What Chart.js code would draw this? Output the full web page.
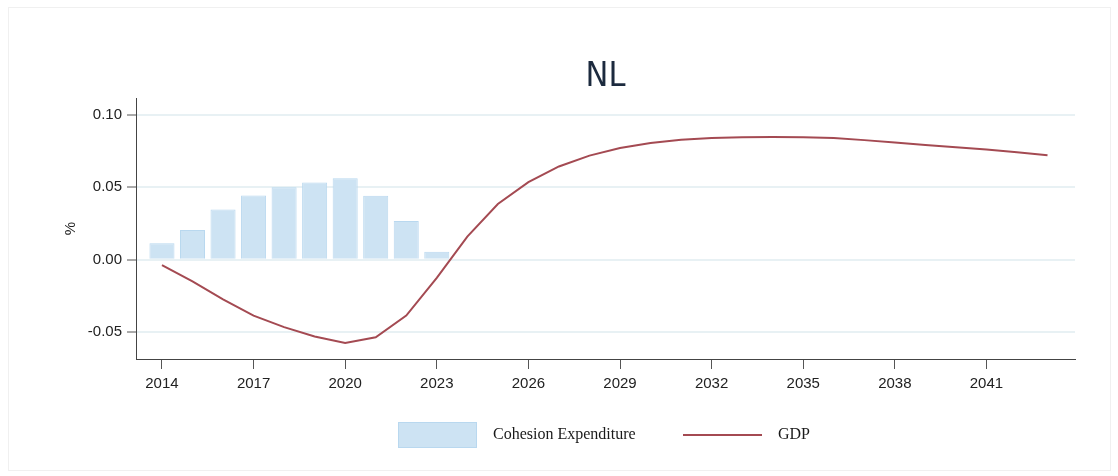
<!DOCTYPE html>
<html>
  <head>
    <title>NL</title>
    <script src="https://cdn.jsdelivr.net/npm/chart.js"></script>
    <style>
      body {
        margin: 0;
        background-color: #ffffff;
        font-family: "Liberation Sans", Arial, sans-serif;
      }
      #wrap {
        position: relative;
        width: 1118px;
        height: 476px;
      }
      #frame {
        position: absolute;
        left: 8px;
        top: 7px;
        width: 1101px;
        height: 462px;
        border: 1px solid #f0f0f0;
      }
      #chartBox {
        position: absolute;
        left: 0;
        top: 0;
        width: 1118px;
        height: 476px;
      }
      .legend-item {
        position: absolute;
        font-family: "Liberation Serif", "Times New Roman", serif;
        font-size: 16px;
        color: #1a1a1a;
        line-height: 20px;
      }
      .swatch-bar {
        position: absolute;
        left: 398px;
        top: 422px;
        width: 77px;
        height: 24px;
        background-color: #cde3f3;
        border: 1px solid #b9d8ef;
      }
      .swatch-line {
        position: absolute;
        left: 683px;
        top: 434px;
        width: 79px;
        height: 2px;
        background-color: #a44a52;
      }
    </style>
  </head>
  <body>
    <div id="wrap">
      <div id="frame"></div>
      <div id="chartBox"><canvas id="nlChart" width="1118" height="476"></canvas></div>
      <div class="swatch-bar"></div>
      <div class="legend-item" style="left: 493px; top: 424px">Cohesion Expenditure</div>
      <div class="swatch-line"></div>
      <div class="legend-item" style="left: 778px; top: 424px">GDP</div>
    </div>

    <script>
      const years = [
        2014, 2015, 2016, 2017, 2018, 2019, 2020, 2021, 2022, 2023,
        2024, 2025, 2026, 2027, 2028, 2029, 2030, 2031, 2032, 2033,
        2034, 2035, 2036, 2037, 2038, 2039, 2040, 2041, 2042, 2043,
      ];
      const cohesionYears = [2014, 2015, 2016, 2017, 2018, 2019, 2020, 2021, 2022, 2023];
      const cohesion = [0.0114, 0.0206, 0.0347, 0.0443, 0.05, 0.0534, 0.0562, 0.0441, 0.0267, 0.0055];
      const gdp = [
        -0.0037, -0.015, -0.0274, -0.0386, -0.0466, -0.053, -0.0575, -0.0536, -0.0386, -0.0125,
        0.016, 0.0385, 0.0536, 0.0644, 0.0719, 0.0772, 0.0806, 0.0828, 0.084, 0.0846,
        0.0848, 0.0846, 0.084, 0.0826, 0.081, 0.0793, 0.0777, 0.0761, 0.0743, 0.0722,
      ];
      const xTicks = [2014, 2017, 2020, 2023, 2026, 2029, 2032, 2035, 2038, 2041];
      const yTicks = [-0.05, 0, 0.05, 0.1];

      const tickFont = { family: "'Liberation Sans', Arial, sans-serif", size: 15 };

      const ctx = document.getElementById("nlChart").getContext("2d");
      new Chart(ctx, {
        type: "bar",
        data: {
          datasets: [
            {
              type: "line",
              label: "GDP",
              data: years.map((y, i) => ({ x: y, y: gdp[i] })),
              borderColor: "#a44a52",
              borderWidth: 2,
              pointRadius: 0,
              tension: 0,
              fill: false,
            },
            {
              type: "bar",
              label: "Cohesion Expenditure",
              data: cohesionYears.map((y, i) => ({ x: y, y: cohesion[i] })),
              backgroundColor: "#cde3f3",
              borderColor: "#b9d8ef",
              borderWidth: 1,
              categoryPercentage: 1,
              barPercentage: 0.82,
            },
          ],
        },
        options: {
          responsive: false,
          animation: false,
          layout: { padding: { left: 62, right: 43, top: 60, bottom: 87 } },
          plugins: {
            legend: { display: false },
            tooltip: { enabled: false },
            title: {
              display: true,
              text: "NL",
              fullSize: false,
              color: "#1c2a3e",
              font: { family: "'Liberation Sans Narrow', 'DejaVu Sans Condensed', sans-serif", size: 34, weight: "normal", lineHeight: 1 },
              padding: { top: 0, bottom: 4 },
            },
          },
          scales: {
            x: {
              type: "linear",
              min: 2013.15,
              max: 2043.9,
              offset: false,
              afterBuildTicks: (scale) => {
                scale.ticks = xTicks.map((v) => ({ value: v }));
              },
              afterFit: (scale) => {
                scale.height = 30;
              },
              ticks: {
                color: "#222",
                font: tickFont,
                padding: 6,
                maxRotation: 0,
                autoSkip: false,
                callback: (v) => String(v),
              },
              grid: {
                offset: false,
                drawOnChartArea: false,
                tickLength: 10,
                tickColor: "#555",
              },
              border: { color: "#444", width: 1 },
            },
            y: {
              min: -0.0686,
              max: 0.1117,
              afterBuildTicks: (scale) => {
                scale.ticks = yTicks.map((v) => ({ value: v }));
              },
              afterFit: (scale) => {
                scale.width = 74;
              },
              ticks: {
                color: "#222",
                font: tickFont,
                padding: 5,
                callback: (v) => v.toFixed(2),
              },
              grid: {
                color: "#e8f1f4",
                lineWidth: 2,
                tickLength: 9,
                tickColor: "#555",
                tickWidth: 1,
              },
              border: { color: "#444", width: 1 },
              title: {
                display: true,
                text: "%",
                color: "#222",
                font: tickFont,
                padding: { top: 0, bottom: 0 },
              },
            },
          },
        },
      });
    </script>
  </body>
</html>
